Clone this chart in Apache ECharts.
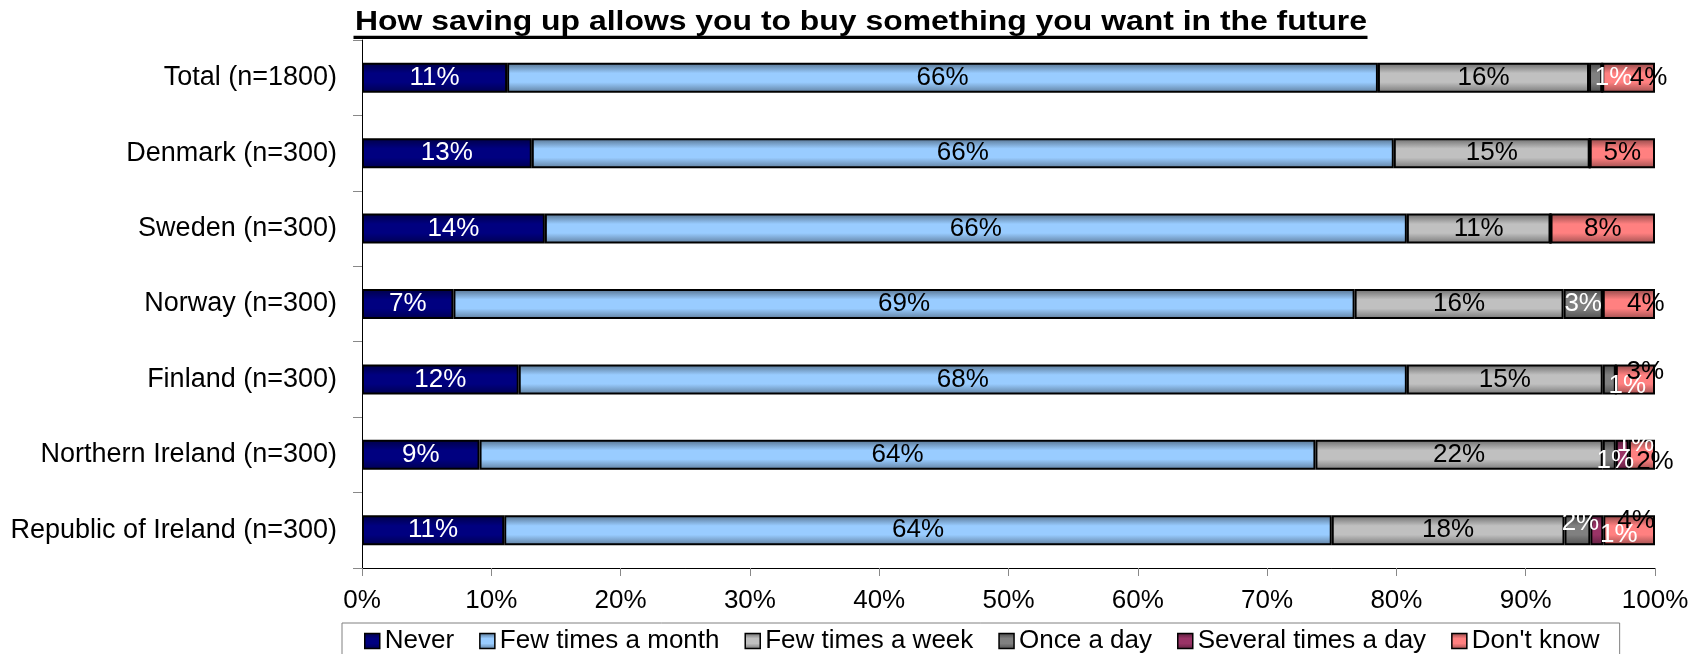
<!DOCTYPE html>
<html>
<head>
<meta charset="utf-8">
<title>How saving up allows you to buy something you want in the future</title>
<script src="https://cdn.jsdelivr.net/npm/echarts@6/dist/echarts.min.js"></script>
<style>
  html, body { margin: 0; padding: 0; background: #ffffff; }
  #chart { width: 1699px; height: 654px; }
</style>
</head>
<body>
<div id="chart"></div>
<script>
// Survey answers per country, in percent of respondents
const categories = [
  'Total (n=1800)',
  'Denmark (n=300)',
  'Sweden (n=300)',
  'Norway (n=300)',
  'Finland (n=300)',
  'Northern Ireland (n=300)',
  'Republic of Ireland (n=300)'
];
const seriesNames = ['Never', 'Few times a month', 'Few times a week', 'Once a day', 'Several times a day', "Don't know"];
const never      = [11, 13, 14, 7, 12, 9, 11];
const fewMonth   = [66, 66, 66, 69, 68, 64, 64];
const fewWeek    = [16, 15, 11, 16, 15, 22, 18];
const onceDay    = [1, 0, 0, 3, 1, 1, 2];
const severalDay = [0, 0, 0, 0, 0, 1, 1];
const dontKnow   = [4, 5, 8, 4, 3, 2, 4];
const xTickValues = [0, 10, 20, 30, 40, 50, 60, 70, 80, 90, 100];

const seriesValues = [never, fewMonth, fewWeek, onceDay, severalDay, dontKnow];
const seriesColors = ['#000080', '#99CCFF', '#C0C0C0', '#808080', '#993366', '#FF8080'];
const labelColors  = ['#ffffff', '#000000', '#000000', '#ffffff', '#ffffff', '#000000'];

// Small segments whose labels are nudged aside so they stay readable
const labelNudges = {
  '0|3': [18, 0], '0|5': [20, 0],
  '3|5': [17, 0],
  '4|3': [18, 6], '4|5': [10, -8],
  '5|3': [6, 6], '5|4': [13, -11], '5|5': [13, 7],
  '6|3': [3, -7], '6|4': [22, 5], '6|5': [7, -9]
};

const FONT = '"Liberation Sans", Arial, sans-serif';

function shade(hex, f) {
  const n = parseInt(hex.slice(1), 16);
  const r = Math.round(((n >> 16) & 255) * f);
  const g = Math.round(((n >> 8) & 255) * f);
  const b = Math.round((n & 255) * f);
  return 'rgb(' + r + ',' + g + ',' + b + ')';
}

function barFill(hex) {
  return new echarts.graphic.LinearGradient(0, 0, 0, 1, [
    { offset: 0, color: shade(hex, 0.55) },
    { offset: 0.35, color: hex },
    { offset: 0.65, color: hex },
    { offset: 1, color: shade(hex, 0.62) }
  ]);
}

// Each row is scaled to its own total, as in a 100% stacked bar
const rowTotals = categories.map((c, r) => seriesValues.reduce((s, arr) => s + arr[r], 0));

const series = seriesNames.map((name, i) => ({
  name: name,
  type: 'bar',
  stack: 'share',
  barWidth: 30,
  itemStyle: { color: barFill(seriesColors[i]), borderColor: '#000000', borderWidth: 2 },
  label: {
    show: true,
    position: 'inside',
    color: labelColors[i],
    fontSize: 26,
    fontFamily: FONT,
    formatter: p => (p.data.raw ? p.data.raw + '%' : '')
  },
  data: seriesValues[i].map((v, r) => {
    const item = { value: v / rowTotals[r] * 100, raw: v };
    const nudge = labelNudges[r + '|' + i];
    if (nudge) item.label = { offset: nudge };
    return item;
  })
}));

const chart = echarts.init(document.getElementById('chart'), null, { renderer: 'canvas' });
chart.setOption({
  animation: false,
  backgroundColor: '#ffffff',
  textStyle: { fontFamily: FONT },
  grid: { left: 362, right: 44, top: 40, height: 528, containLabel: false },
  xAxis: {
    type: 'value',
    min: xTickValues[0],
    max: xTickValues[xTickValues.length - 1],
    interval: xTickValues[1] - xTickValues[0],
    axisLine: { show: true, lineStyle: { color: '#000000', width: 1 } },
    axisTick: { show: true, length: 8, lineStyle: { color: '#888888' } },
    splitLine: { show: false },
    axisLabel: { formatter: '{value}%', fontSize: 26, color: '#000000', margin: 20, fontFamily: FONT }
  },
  yAxis: {
    type: 'category',
    data: categories,
    inverse: true,
    axisLine: { show: true, lineStyle: { color: '#000000', width: 1 } },
    axisTick: { show: true, length: 9, lineStyle: { color: '#888888' } },
    axisLabel: { fontSize: 27, color: '#000000', margin: 25, fontFamily: FONT }
  },
  legend: {
    data: seriesNames,
    left: 342,
    top: 623,
    orient: 'horizontal',
    padding: [5, 20, 5, 22],
    borderColor: '#808080',
    borderWidth: 1,
    itemWidth: 15,
    itemHeight: 15,
    itemGap: 25,
    icon: 'rect',
    itemStyle: { borderColor: '#000000', borderWidth: 1.5 },
    textStyle: { fontSize: 26, color: '#000000', fontFamily: FONT }
  },
  graphic: [
    {
      type: 'text',
      x: 355,
      y: 22,
      scaleX: 1.16,
      style: {
        text: 'How saving up allows you to buy something you want in the future',
        font: 'bold 27.5px ' + FONT,
        fill: '#000000',
        align: 'left',
        verticalAlign: 'middle'
      }
    },
    {
      type: 'rect',
      shape: { x: 353.5, y: 35.8, width: 1014, height: 3.2 },
      style: { fill: '#000000' }
    }
  ],
  series: series
});
</script>
</body>
</html>
